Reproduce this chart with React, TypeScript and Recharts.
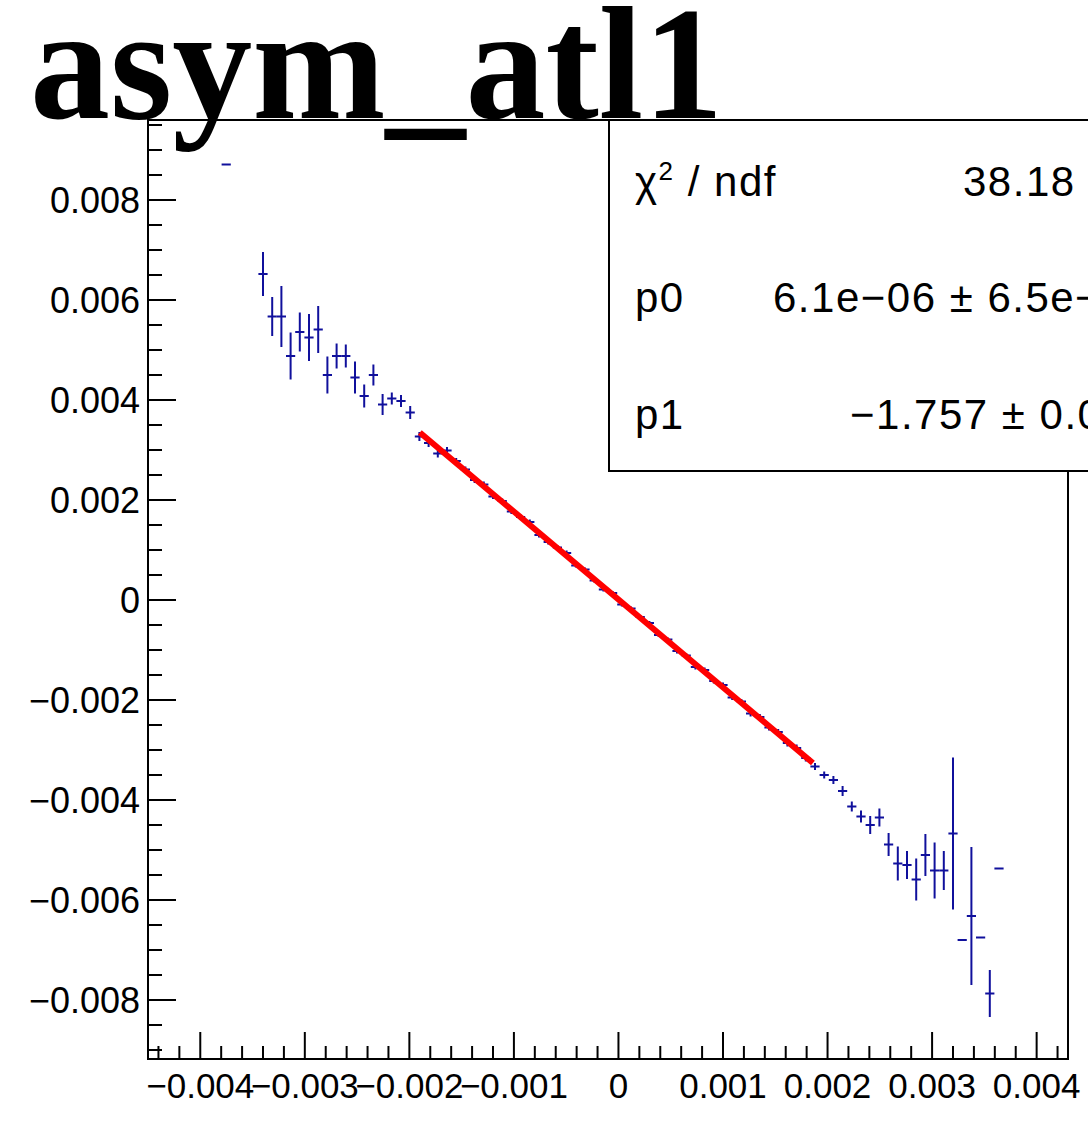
import React from 'react'
import { ScatterChart, Scatter, XAxis, YAxis, ErrorBar, ReferenceArea } from 'recharts'

// bin centres of the filled bins (100 bins over [-0.0045, 0.0043])
const binCenters = [
  -0.003752,
  -0.0034, -0.003312, -0.003224, -0.003136, -0.003048, -0.00296, -0.002872, -0.002784, -0.002696,
  -0.002608, -0.00252, -0.002432, -0.002344, -0.002256, -0.002168, -0.00208, -0.001992,
  -0.001904, -0.001816, -0.001728, -0.00164, -0.001552, -0.001464, -0.001376, -0.001288, -0.0012,
  -0.001112, -0.001024, -0.000936, -0.000848, -0.00076, -0.000672, -0.000584, -0.000496, -0.000408,
  -0.00032, -0.000232, -0.000144, -0.000056, 0.000032, 0.00012, 0.000208, 0.000296, 0.000384,
  0.000472, 0.00056, 0.000648, 0.000736, 0.000824, 0.000912, 0.001, 0.001088, 0.001176, 0.001264,
  0.001352, 0.00144, 0.001528, 0.001616, 0.001704, 0.001792,
  0.00188, 0.001968, 0.002056, 0.002144, 0.002232, 0.00232, 0.002408, 0.002496, 0.002584, 0.002672,
  0.00276, 0.002848, 0.002936, 0.003024, 0.003112, 0.0032, 0.003288, 0.003376, 0.003464, 0.003552,
  0.00364,
]

const binValues = [
  0.00871,
  0.00652, 0.00567, 0.00567, 0.00488, 0.00536, 0.00525, 0.00541, 0.0045, 0.00488,
  0.00488, 0.00445, 0.00408, 0.0045, 0.00391, 0.00403, 0.00398, 0.00375,
  0.00327, 0.00314, 0.00293, 0.00299, 0.00278, 0.00261, 0.0024, 0.00231, 0.00207,
  0.00198, 0.00177, 0.00166, 0.00156, 0.0013, 0.00116, 0.00105, 0.00094, 0.00069,
  0.00061, 0.00039, 0.00021, 0.00014, -0.00009, -0.00017, -0.00034, -0.00046, -0.0007,
  -0.00079, -0.00102, -0.00111, -0.00134, -0.0014, -0.00162, -0.0017, -0.00195, -0.00203, -0.00227,
  -0.00234, -0.00255, -0.00264, -0.00286, -0.00296, -0.00316,
  -0.00333, -0.0035, -0.0036, -0.00382, -0.00413, -0.00433, -0.0045, -0.00435, -0.00489, -0.00527,
  -0.0053, -0.00559, -0.0051, -0.00541, -0.00541, -0.00467, -0.0068, -0.00632, -0.00675, -0.00787,
  -0.00537,
]

const binErrors = [
  0,
  0.00044, 0.00039, 0.00061, 0.00047, 0.00039, 0.00047, 0.00047, 0.00037, 0.00025,
  0.00023, 0.00032, 0.00023, 0.00021, 0.00021, 0.00012, 0.00012, 0.00013,
  0.00009, 0.00008, 0.00008, 0.00007, 0.00006, 0.00006, 0.00006, 0.00006, 0.00005,
  0.00005, 0.00005, 0.00005, 0.00005, 0.00005, 0.00005, 0.00005, 0.00005, 0.00004,
  0.00004, 0.00004, 0.00004, 0.00004, 0.00004, 0.00004, 0.00004, 0.00004, 0.00004,
  0.00004, 0.00005, 0.00005, 0.00005, 0.00005, 0.00005, 0.00005, 0.00005, 0.00005, 0.00006,
  0.00006, 0.00006, 0.00006, 0.00007, 0.00007, 0.00007,
  0.00007, 0.00007, 0.00008, 0.0001, 0.0001, 0.00012, 0.00018, 0.00018, 0.00023, 0.00034,
  0.00028, 0.00042, 0.00042, 0.00056, 0.00039, 0.00152, 0, 0.00138, 0, 0.00047,
  0,
]

const binHalfWidth = 0.000044

// pol1 fit drawn over [-0.0019, 0.00186]
const fitX = [-0.0019, 0.00186]
const fitY = [0.00335, -0.00326]

const xMajorTicks = [-0.004, -0.003, -0.002, -0.001, 0, 0.001, 0.002, 0.003, 0.004]
const xTickLabels = ['\u22120.004', '\u22120.003', '\u22120.002', '\u22120.001', '0', '0.001', '0.002', '0.003', '0.004']
const yMajorTicks = [0.008, 0.006, 0.004, 0.002, 0, -0.002, -0.004, -0.006, -0.008]
const yTickLabels = ['0.008', '0.006', '0.004', '0.002', '0', '\u22120.002', '\u22120.004', '\u22120.006', '\u22120.008']

const statLabels = ['p0', 'p1']
const statValues = ['6.1e\u221206 \u00b1 6.5e\u221206', '\u22121.757 \u00b1 0.006']
const chi2Value = '38.18 / 41'

const X_DOMAIN: [number, number] = [-0.0045, 0.0043]
const Y_DOMAIN: [number, number] = [-0.00918, 0.0096]

const BLUE = '#10109c'
const SANS = '"Liberation Sans", Arial, Helvetica, sans-serif'

const stepTicks = (lo: number, hi: number, step: number) => {
  const out: number[] = []
  for (let k = Math.round(lo / step); k <= Math.round(hi / step); k++) out.push(+(k * step).toFixed(6))
  return out
}
const xTicks = stepTicks(-0.0044, 0.0042, 0.0002)
const yTicks = stepTicks(-0.009, 0.0095, 0.0005)

const points = binCenters.map((x, i) => ({ x, y: binValues[i], ex: binHalfWidth, ey: binErrors[i] }))
const fitPoints = fitX.map((x, i) => ({ x, y: fitY[i] }))

const findMajor = (list: number[], v: number) => list.findIndex(t => Math.abs(t - v) < 1e-9)

// tick position handed in is the frame edge (tickSize and tickMargin are 0)
const XTick = (props: any) => {
  const { x, y, payload } = props
  const idx = findMajor(xMajorTicks, payload.value)
  const major = idx >= 0
  return (
    <g>
      <line x1={x} x2={x} y1={y} y2={y - (major ? 27 : 13)} stroke="#000" strokeWidth={2} />
      {major && (
        <text x={x} y={y + 39} textAnchor="middle" fontSize={35} fontFamily={SANS} fill="#000">
          {xTickLabels[idx]}
        </text>
      )}
    </g>
  )
}

const YTick = (props: any) => {
  const { x, y, payload } = props
  const idx = findMajor(yMajorTicks, payload.value)
  const major = idx >= 0
  return (
    <g>
      <line x1={x} x2={x + (major ? 28 : 14)} y1={y} y2={y} stroke="#000" strokeWidth={2} />
      {major && (
        <text x={x - 8} y={y + 13} textAnchor="end" fontSize={36} fontFamily={SANS} fill="#000">
          {yTickLabels[idx]}
        </text>
      )}
    </g>
  )
}

const NoMarker = () => <g />

const statText = { fontSize: 42, fontFamily: SANS, fill: '#000', letterSpacing: 1.5 }

export default function App() {
  return (
    <div style={{ position: 'absolute', left: 0, top: 0, width: 1088, height: 1128, background: '#fff' }}>
      <ScatterChart width={1088} height={1128} margin={{ top: 120, right: 20, bottom: 9, left: 8 }}>
        <XAxis
          type="number" dataKey="x" domain={X_DOMAIN} allowDataOverflow ticks={xTicks} interval={0}
          tick={<XTick />} tickLine={false} axisLine={false}
          height={60} tickSize={0} tickMargin={0}
        />
        <YAxis
          type="number" dataKey="y" domain={Y_DOMAIN} allowDataOverflow ticks={yTicks} interval={0}
          tick={<YTick />} tickLine={false} axisLine={false}
          width={140} tickSize={0} tickMargin={0}
        />
        <ReferenceArea x1={X_DOMAIN[0]} x2={X_DOMAIN[1]} y1={Y_DOMAIN[0]} y2={Y_DOMAIN[1]}
          fill="none" fillOpacity={0} stroke="#000" strokeWidth={2} />
        <Scatter data={points} fill={BLUE} shape={NoMarker} isAnimationActive={false}>
          <ErrorBar dataKey="ex" direction="x" width={0} stroke={BLUE} strokeWidth={2} isAnimationActive={false} />
          <ErrorBar dataKey="ey" direction="y" width={0} stroke={BLUE} strokeWidth={2} isAnimationActive={false} />
        </Scatter>
        <Scatter data={fitPoints} fill="#ff0000" shape={NoMarker} line={{ stroke: '#ff0000', strokeWidth: 6 }}
          isAnimationActive={false} />
      </ScatterChart>

      <svg width={1088} height={1128} style={{ position: 'absolute', left: 0, top: 0, pointerEvents: 'none' }}>
        <rect x={609} y={120} width={600} height={351} fill="#fff" stroke="#000" strokeWidth={2} />
        <text x={635} y={196} {...statText}>
          {'\u03c7'}
          <tspan dy={-16} fontSize={26}>2</tspan>
          <tspan dy={16}>{' / ndf'}</tspan>
        </text>
        <text x={963} y={196} {...statText}>{chi2Value}</text>
        <text x={635} y={312} {...statText}>{statLabels[0]}</text>
        <text x={773} y={312} {...statText}>{statValues[0]}</text>
        <text x={635} y={429} {...statText}>{statLabels[1]}</text>
        <text x={850} y={429} {...statText}>{statValues[1]}</text>
        <text x={30} y={118} fontSize={160} fontWeight="bold" fontFamily='"Liberation Serif", "Times New Roman", serif' fill="#000">
          asym_atl1
        </text>
      </svg>
    </div>
  )
}
